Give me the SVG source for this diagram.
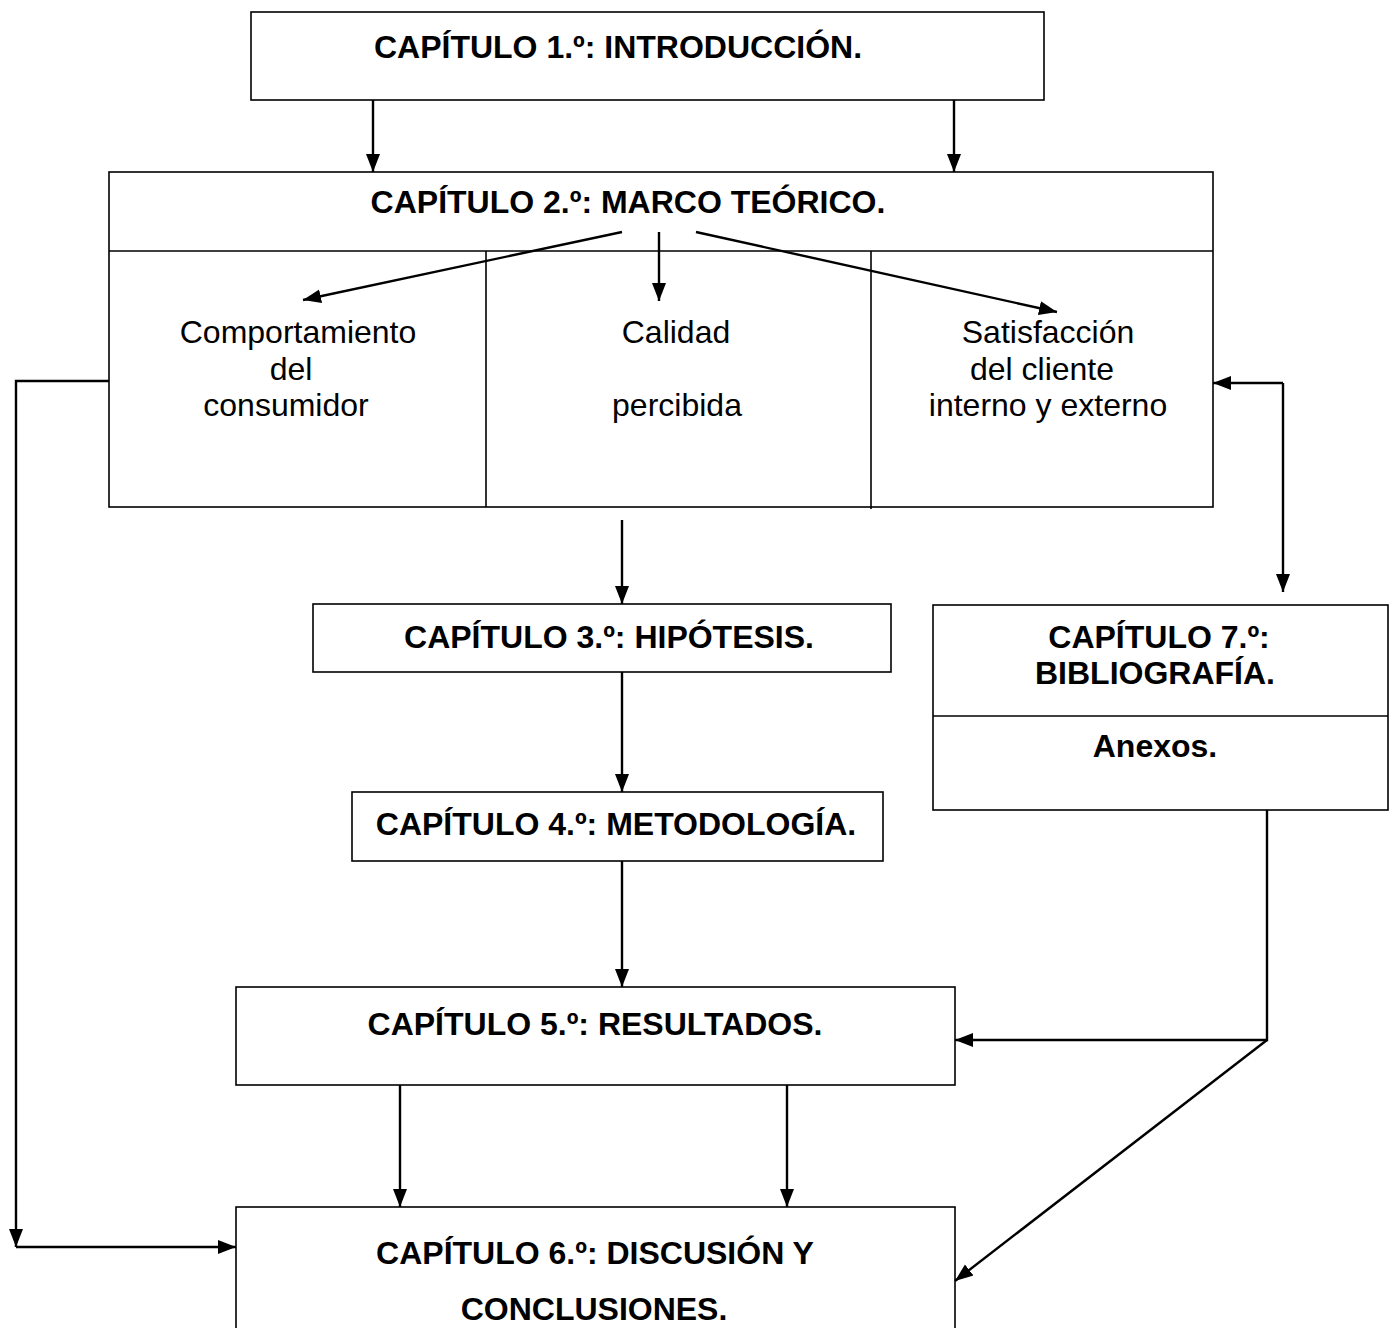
<svg xmlns="http://www.w3.org/2000/svg" width="1391" height="1328" viewBox="0 0 1391 1328">
  <style>
    .box { fill: #ffffff; stroke: #000000; stroke-width: 1.6; }
    .div { stroke: #000000; stroke-width: 1.6; fill: none; }
    .link { stroke: #000000; stroke-width: 2.4; fill: none; }
    .title { font-family: "Liberation Sans", Arial, sans-serif; font-size: 32px; font-weight: bold; text-anchor: middle; fill: #000000; }
    .body { font-family: "Liberation Sans", Arial, sans-serif; font-size: 32px; text-anchor: middle; fill: #000000; }
  </style>
  <defs>
    <marker id="arrow" markerUnits="userSpaceOnUse" markerWidth="20" markerHeight="16" refX="18" refY="8" orient="auto">
      <path d="M0,1 L18,8 L0,15 Z" fill="#000000"/>
    </marker>
  </defs>

  <rect width="1391" height="1328" fill="#ffffff"/>

  <!-- Chapter 1 -->
  <g id="cap1">
    <rect class="box" x="251" y="12" width="793" height="88"/>
    <text class="title" x="618" y="58">CAPÍTULO 1.º: INTRODUCCIÓN.</text>
  </g>

  <!-- Chapter 2 with its three sub-topics -->
  <g id="cap2">
    <rect class="box" x="109" y="172" width="1104" height="335"/>
    <line class="div" x1="109" y1="251" x2="1213" y2="251"/>
    <line class="div" x1="486" y1="251" x2="486" y2="507"/>
    <line class="div" x1="871" y1="251" x2="871" y2="509"/>
    <text class="title" x="628" y="213">CAPÍTULO 2.º: MARCO TEÓRICO.</text>
  </g>
  <g id="comportamiento">
    <text class="body" x="298" y="343">Comportamiento</text>
    <text class="body" x="291" y="380">del</text>
    <text class="body" x="286" y="416">consumidor</text>
  </g>
  <g id="calidad">
    <text class="body" x="676" y="343">Calidad</text>
    <text class="body" x="677" y="416">percibida</text>
  </g>
  <g id="satisfaccion">
    <text class="body" x="1048" y="343">Satisfacción</text>
    <text class="body" x="1042" y="380">del cliente</text>
    <text class="body" x="1048" y="416">interno y externo</text>
  </g>

  <!-- Chapter 3 -->
  <g id="cap3">
    <rect class="box" x="313" y="604" width="578" height="68"/>
    <text class="title" x="609" y="648">CAPÍTULO 3.º: HIPÓTESIS.</text>
  </g>

  <!-- Chapter 4 -->
  <g id="cap4">
    <rect class="box" x="352" y="792" width="531" height="69"/>
    <text class="title" x="616" y="835">CAPÍTULO 4.º: METODOLOGÍA.</text>
  </g>

  <!-- Chapter 5 -->
  <g id="cap5">
    <rect class="box" x="236" y="987" width="719" height="98"/>
    <text class="title" x="595" y="1035">CAPÍTULO 5.º: RESULTADOS.</text>
  </g>

  <!-- Chapter 6 -->
  <g id="cap6">
    <rect class="box" x="236" y="1207" width="719" height="130"/>
    <text class="title" x="595" y="1264">CAPÍTULO 6.º: DISCUSIÓN Y</text>
    <text class="title" x="594" y="1320">CONCLUSIONES.</text>
  </g>

  <!-- Chapter 7 and annexes -->
  <g id="cap7">
    <rect class="box" x="933" y="605" width="455" height="205"/>
    <line class="div" x1="933" y1="716" x2="1388" y2="716"/>
    <text class="title" x="1159" y="648">CAPÍTULO 7.º:</text>
    <text class="title" x="1155" y="684">BIBLIOGRAFÍA.</text>
    <text class="title" x="1155" y="757">Anexos.</text>
  </g>

  <!-- Connectors -->
  <g id="connectors">
    <line class="link" x1="373" y1="100" x2="373" y2="172" marker-end="url(#arrow)"/>
    <line class="link" x1="954" y1="100" x2="954" y2="172" marker-end="url(#arrow)"/>

    <line class="link" x1="622" y1="232" x2="303" y2="300" marker-end="url(#arrow)"/>
    <line class="link" x1="659" y1="232" x2="659" y2="301" marker-end="url(#arrow)"/>
    <line class="link" x1="696" y1="232" x2="1057" y2="312" marker-end="url(#arrow)"/>

    <line class="link" x1="622" y1="520" x2="622" y2="604" marker-end="url(#arrow)"/>
    <line class="link" x1="622" y1="672" x2="622" y2="792" marker-end="url(#arrow)"/>
    <line class="link" x1="622" y1="861" x2="622" y2="987" marker-end="url(#arrow)"/>

    <line class="link" x1="400" y1="1085" x2="400" y2="1207" marker-end="url(#arrow)"/>
    <line class="link" x1="787" y1="1085" x2="787" y2="1207" marker-end="url(#arrow)"/>

    <!-- left bypass from chapter 2 to chapter 6 -->
    <polyline class="link" points="109,381 16,381 16,1247" marker-end="url(#arrow)"/>
    <line class="link" x1="16" y1="1247" x2="236" y2="1247" marker-end="url(#arrow)"/>

    <!-- two-way link between chapter 2 and chapter 7 -->
    <polyline class="link" points="1283,383 1213,383" marker-end="url(#arrow)"/>
    <polyline class="link" points="1283,383 1283,592" marker-end="url(#arrow)"/>

    <!-- chapter 7 feeding chapters 5 and 6 -->
    <polyline class="link" points="1267,810 1267,1040 955,1040" marker-end="url(#arrow)"/>
    <line class="link" x1="1267" y1="1040" x2="955" y2="1281" marker-end="url(#arrow)"/>
  </g>
</svg>
